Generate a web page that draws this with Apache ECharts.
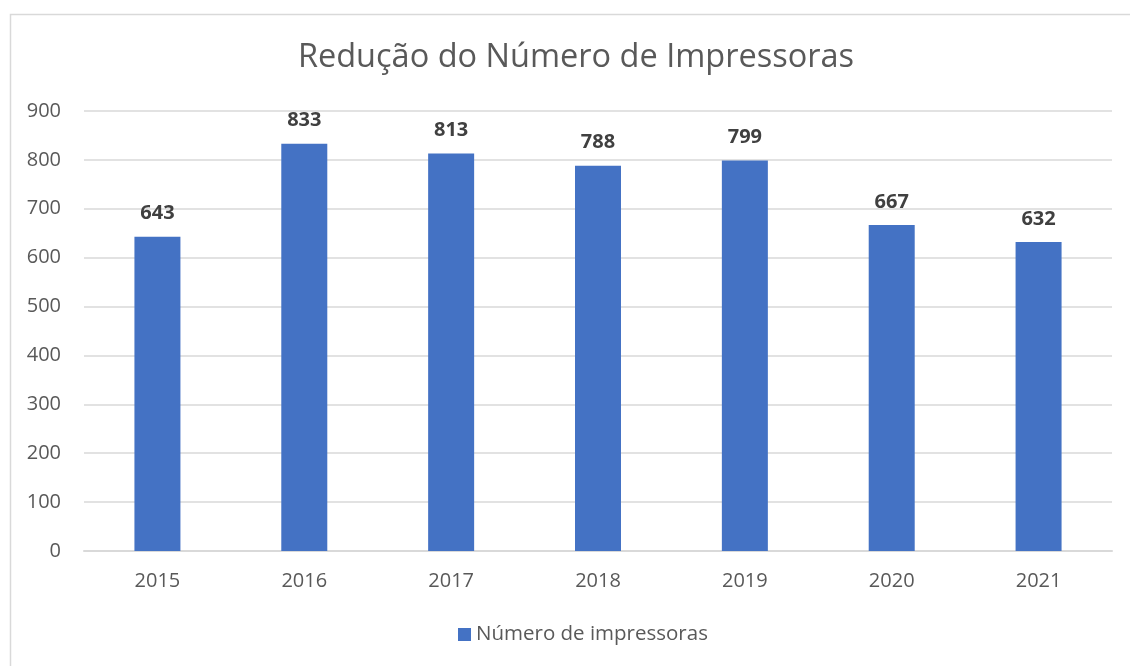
<!DOCTYPE html>
<html>
<head>
<meta charset="utf-8">
<script src="https://cdn.jsdelivr.net/npm/echarts@6/dist/echarts.min.js"></script>
<style>html,body{margin:0;padding:0;background:#fff;}#c{width:1130px;height:666px;}</style>
</head>
<body>
<div id="c"></div>
<script>
var categories = ['2015', '2016', '2017', '2018', '2019', '2020', '2021'];
var values = [643, 833, 813, 788, 799, 667, 632];
var seriesName = 'Número de impressoras';
var titleText = 'Redução do Número de Impressoras';

var FONT = '"Open Sans", sans-serif';
var chart = echarts.init(document.getElementById('c'));
chart.setOption({
  animation: false,
  backgroundColor: '#ffffff',
  graphic: [{
    type: 'rect',
    left: 8, top: 12,
    shape: { width: 1140, height: 700 },
    style: { fill: 'none', stroke: '#D9D9D9', lineWidth: 1.5 },
    silent: true
  }],
  title: {
    text: titleText,
    left: 571, top: 36, textAlign: 'center',
    textStyle: { fontFamily: FONT, fontSize: 32.5, fontWeight: 'normal', color: '#595959' }
  },
  legend: {
    bottom: 16, left: 453,
    itemWidth: 13, itemHeight: 13, icon: 'rect',
    textStyle: { fontFamily: FONT, fontSize: 20.5, color: '#595959' },
    data: [seriesName]
  },
  grid: { left: 84, right: 18, top: 111, bottom: 115, containLabel: false },
  xAxis: {
    type: 'category',
    data: categories,
    axisLine: { lineStyle: { color: '#D9D9D9', width: 2 } },
    axisTick: { show: false },
    axisLabel: { fontFamily: FONT, fontSize: 20, color: '#595959', margin: 20 }
  },
  yAxis: {
    type: 'value',
    min: 0, max: 900, interval: 100,
    axisLine: { show: false },
    axisTick: { show: false },
    splitLine: { lineStyle: { color: '#D9D9D9', width: 1.5 } },
    axisLabel: { fontFamily: FONT, fontSize: 20, color: '#595959', margin: 23 }
  },
  series: [{
    name: seriesName,
    type: 'bar',
    data: values,
    barWidth: 46,
    itemStyle: { color: '#4472C4' },
    label: {
      show: true, position: 'top', distance: 13,
      fontFamily: FONT, fontSize: 20, fontWeight: 'bold', color: '#404040'
    }
  }]
});
</script>
</body>
</html>
